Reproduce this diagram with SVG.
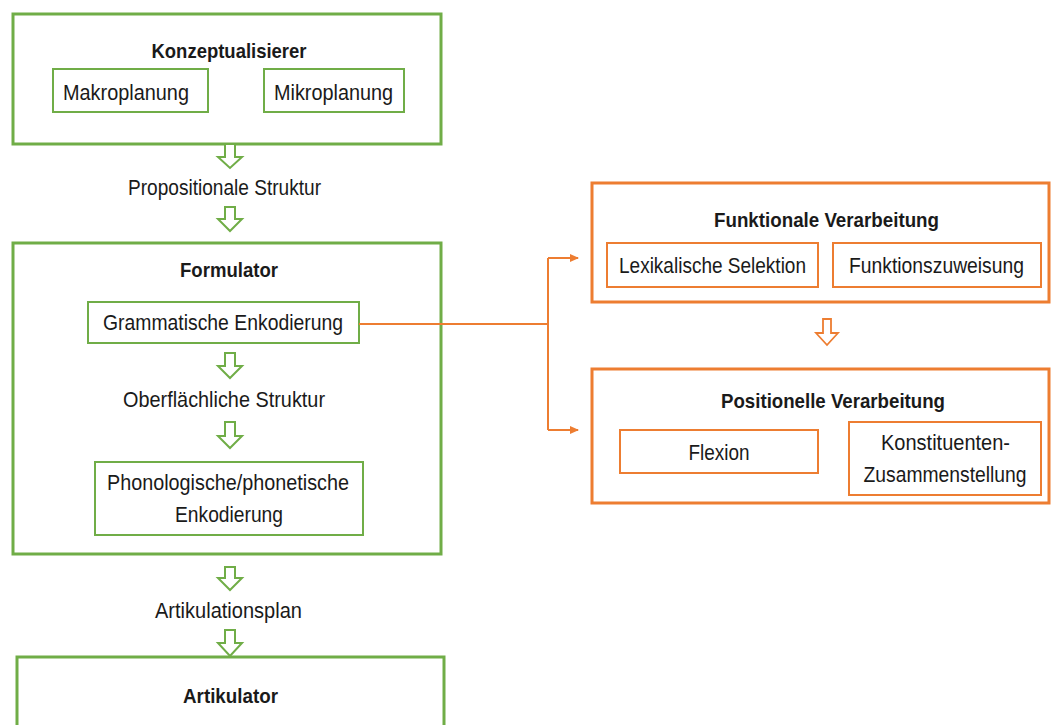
<svg xmlns="http://www.w3.org/2000/svg" width="1051" height="725" viewBox="0 0 1051 725">
<style>
.gO{fill:#fff;stroke:#70AD47;stroke-width:3}
.gI{fill:#fff;stroke:#70AD47;stroke-width:2}
.oO{fill:#fff;stroke:#ED7D31;stroke-width:3}
.oI{fill:#fff;stroke:#ED7D31;stroke-width:2}
.t{font-family:"Liberation Sans",Arial,sans-serif;font-size:22px;fill:#1a1a1a;text-anchor:middle}
.b{font-weight:bold;font-size:21px}
.ga{fill:#fff;stroke:#70AD47;stroke-width:2;stroke-linejoin:miter}
.oa{fill:#fff;stroke:#ED7D31;stroke-width:1.8}
.con{fill:none;stroke:#ED7D31;stroke-width:2}
</style>
<defs>
<marker id="ah" markerWidth="10" markerHeight="10" refX="8" refY="5" orient="auto" markerUnits="userSpaceOnUse">
<path d="M0,1 L9,5 L0,9 Z" fill="#ED7D31"/>
</marker>
</defs>
<rect width="1051" height="725" fill="#fff"/>

<g id="konzeptualisierer">
<rect class="gO" x="13" y="14" width="428" height="130"/>
<text class="t b" x="229" y="58" textLength="155" lengthAdjust="spacingAndGlyphs">Konzeptualisierer</text>
<rect class="gI" x="53" y="69" width="155" height="43"/>
<text class="t" x="126" y="100" textLength="126" lengthAdjust="spacingAndGlyphs">Makroplanung</text>
<rect class="gI" x="264" y="69" width="140" height="43"/>
<text class="t" x="333.5" y="100" textLength="119" lengthAdjust="spacingAndGlyphs">Mikroplanung</text>
</g>

<g id="propositionale">
<text class="t" x="224.5" y="195" textLength="193" lengthAdjust="spacingAndGlyphs">Propositionale Struktur</text>
</g>

<g id="formulator">
<rect class="gO" x="13" y="243" width="428" height="311"/>
<text class="t b" x="229" y="277" textLength="98" lengthAdjust="spacingAndGlyphs">Formulator</text>
<rect class="gI" x="88" y="302" width="271" height="41"/>
<text class="t" x="223" y="330" textLength="240" lengthAdjust="spacingAndGlyphs">Grammatische Enkodierung</text>
<text class="t" x="224" y="407" textLength="202" lengthAdjust="spacingAndGlyphs">Oberflächliche Struktur</text>
<rect class="gI" x="95" y="462" width="268" height="73"/>
<text class="t" x="228" y="490" textLength="242" lengthAdjust="spacingAndGlyphs">Phonologische/phonetische</text>
<text class="t" x="229" y="522" textLength="108" lengthAdjust="spacingAndGlyphs">Enkodierung</text>
</g>

<g id="artikulationsplan">
<text class="t" x="228.5" y="618" textLength="147" lengthAdjust="spacingAndGlyphs">Artikulationsplan</text>
</g>

<g id="artikulator">
<rect class="gO" x="17" y="657" width="427" height="90"/>
<text class="t b" x="230.5" y="703" textLength="95" lengthAdjust="spacingAndGlyphs">Artikulator</text>
</g>

<g id="funktionale">
<rect class="oO" x="592" y="183" width="457" height="119"/>
<text class="t b" x="826.5" y="227" textLength="225" lengthAdjust="spacingAndGlyphs">Funktionale Verarbeitung</text>
<rect class="oI" x="607" y="243" width="211" height="44"/>
<text class="t" x="712.5" y="273" textLength="187" lengthAdjust="spacingAndGlyphs">Lexikalische Selektion</text>
<rect class="oI" x="833" y="243" width="208" height="44"/>
<text class="t" x="936.5" y="273" textLength="175" lengthAdjust="spacingAndGlyphs">Funktionszuweisung</text>
</g>

<g id="positionelle">
<rect class="oO" x="592" y="369" width="457" height="134"/>
<text class="t b" x="833" y="408" textLength="224" lengthAdjust="spacingAndGlyphs">Positionelle Verarbeitung</text>
<rect class="oI" x="620" y="430" width="198" height="43"/>
<text class="t" x="719" y="460" textLength="61" lengthAdjust="spacingAndGlyphs">Flexion</text>
<rect class="oI" x="849" y="422" width="192" height="73"/>
<text class="t" x="945.5" y="450" textLength="129" lengthAdjust="spacingAndGlyphs">Konstituenten-</text>
<text class="t" x="945" y="482" textLength="163" lengthAdjust="spacingAndGlyphs">Zusammenstellung</text>
</g>

<g id="connectors">
<path class="ga" d="M225,144 H235 V157 H242 L230,168 L218,157 H225 Z"/>
<path class="ga" d="M225,207 H235 V219 H242 L230,231 L218,219 H225 Z"/>
<path class="ga" d="M225,353 H235 V366 H242 L230,378 L218,366 H225 Z"/>
<path class="ga" d="M225,422 H235 V436 H242 L230,448 L218,436 H225 Z"/>
<path class="ga" d="M225,567 H235 V578 H242 L230,590 L218,578 H225 Z"/>
<path class="ga" d="M225,630 H235 V643 H242 L230,656 L218,643 H225 Z"/>
<path class="oa" d="M823,319 H831 V333 H838 L827,345 L816,333 H823 Z"/>
<path class="con" d="M359,324 H548"/>
<path class="con" d="M548,258 V430"/>
<path class="con" d="M548,258 H578" marker-end="url(#ah)"/>
<path class="con" d="M548,430 H578" marker-end="url(#ah)"/>
</g>
</svg>
